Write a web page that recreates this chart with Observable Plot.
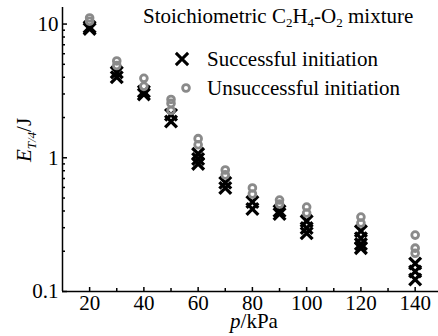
<!DOCTYPE html>
<html><head><meta charset="utf-8">
<script src="https://cdn.jsdelivr.net/npm/d3@7"></script>
<script src="https://cdn.jsdelivr.net/npm/@observablehq/plot@0.6"></script>
<style>body{margin:0;background:#fff}</style>
</head><body><div id="chart"></div>
<script>
// Successful initiation (black crosses)
const successP = [20,20,30,30,40,40,50,50,60,60,60,70,70,80,80,90,90,100,100,100,120,120,120,120,140,140,140];
const successE = [9.2,9.5,4.0,4.35,2.98,3.13,1.87,2.1,0.9,0.98,1.07,0.595,0.65,0.414,0.467,0.38,0.40,0.273,0.298,0.336,0.211,0.226,0.25,0.283,0.123,0.141,0.162];
// Unsuccessful initiation (grey rings)
const unsuccP = [20,20,30,30,40,40,50,50,50,60,60,70,70,80,80,90,90,100,100,120,120,140,140,140];
const unsuccE = [10.5,11.1,4.9,5.3,3.42,3.93,2.26,2.55,2.73,1.25,1.39,0.745,0.81,0.536,0.595,0.451,0.483,0.386,0.428,0.325,0.36,0.193,0.211,0.264];
// Axes
const xDomain = [10, 148.6];
const yDomain = [0.1, 13.3];
const xMajor = [20,40,60,80,100,120,140];
const xMinor = [30,50,70,90,110,130];
const yMajor = [0.1,1,10];
const yMinor = [0.2,0.3,0.4,0.5,0.6,0.7,0.8,0.9,2,3,4,5,6,7,8,9];
const legendLabels = ["Successful initiation","Unsuccessful initiation"];

const success = successP.map((p,i)=>({p, e: successE[i]}));
const unsucc = unsuccP.map((p,i)=>({p, e: unsuccE[i]}));

const FONT = "Liberation Serif, 'Times New Roman', serif";
const plot = Plot.plot({
  width: 438, height: 336, marginLeft: 62, marginRight: 0, marginTop: 7, marginBottom: 45,
  style: {fontFamily: FONT, fontSize: "21px", background: "white", color: "black"},
  x: {domain: xDomain, label: null},
  y: {type: "log", domain: yDomain, label: null},
  marks: [
    Plot.ruleY([yDomain[0]], {stroke: "black", strokeWidth: 1.5}),
    Plot.ruleX([xDomain[0]], {stroke: "black", strokeWidth: 1.5}),
    Plot.axisY({ticks: yMajor, tickSize: 0, tickPadding: 4, tickFormat: d => String(d), fontSize: 21}),
    Plot.axisY({ticks: yMajor, tickSize: -5, text: null, strokeWidth: 1.5}),
    Plot.axisY({ticks: yMinor, tickSize: -3, text: null, strokeWidth: 1.5}),
    Plot.axisX({ticks: xMajor, tickSize: 0, tickPadding: 4, fontSize: 21}),
    Plot.axisX({ticks: xMajor, tickSize: -4, text: null, strokeWidth: 1.5}),
    Plot.axisX({ticks: xMinor, tickSize: -3, text: null, strokeWidth: 1.5}),
    Plot.dot(success, {x: "p", y: "e", symbol: "times", r: 5.4, stroke: "black", strokeWidth: 3.3}),
    Plot.dot(unsucc, {x: "p", y: "e", r: 3.4, stroke: "#8a8a8a", strokeWidth: 2.8, fill: "none"})
  ]
});
document.getElementById("chart").appendChild(plot);

const svg = d3.select(plot);
const g = svg.append("g").attr("font-family", FONT).attr("font-size", 21)
  .attr("fill", "black").attr("text-anchor", "start");

// Title with subscripts
const t = g.append("text").attr("x", 143).attr("y", 23);
t.append("tspan").text("Stoichiometric C");
t.append("tspan").attr("font-size", 13).attr("dy", 4).text("2");
t.append("tspan").attr("dy", -4).text("H");
t.append("tspan").attr("font-size", 13).attr("dy", 4).text("4");
t.append("tspan").attr("dy", -4).text("-O");
t.append("tspan").attr("font-size", 13).attr("dy", 4).text("2");
t.append("tspan").attr("dy", -4).text(" mixture");

// Legend
g.append("path").attr("transform", "translate(182,59)")
  .attr("d", d3.symbol(d3.symbolTimes, 100)())
  .attr("fill", "none").attr("stroke", "black").attr("stroke-width", 3);
g.append("text").attr("x", 207).attr("y", 66).text(legendLabels[0]);
g.append("circle").attr("cx", 186).attr("cy", 88).attr("r", 3.4)
  .attr("fill", "none").attr("stroke", "#8a8a8a").attr("stroke-width", 2.8);
g.append("text").attr("x", 207).attr("y", 95).text(legendLabels[1]);

// X label
const xl = g.append("text").attr("x", 254).attr("y", 328).attr("text-anchor", "middle");
xl.append("tspan").attr("font-style", "italic").text("p");
xl.append("tspan").text("/kPa");

// Y label
const yl = g.append("text").attr("transform", "translate(31,140) rotate(-90)").attr("text-anchor", "middle");
yl.append("tspan").attr("font-style", "italic").text("E");
yl.append("tspan").attr("font-style", "italic").attr("font-size", 13).attr("dy", 5).text("T/4");
yl.append("tspan").attr("dy", -5).text("/J");
</script>
</body></html>
